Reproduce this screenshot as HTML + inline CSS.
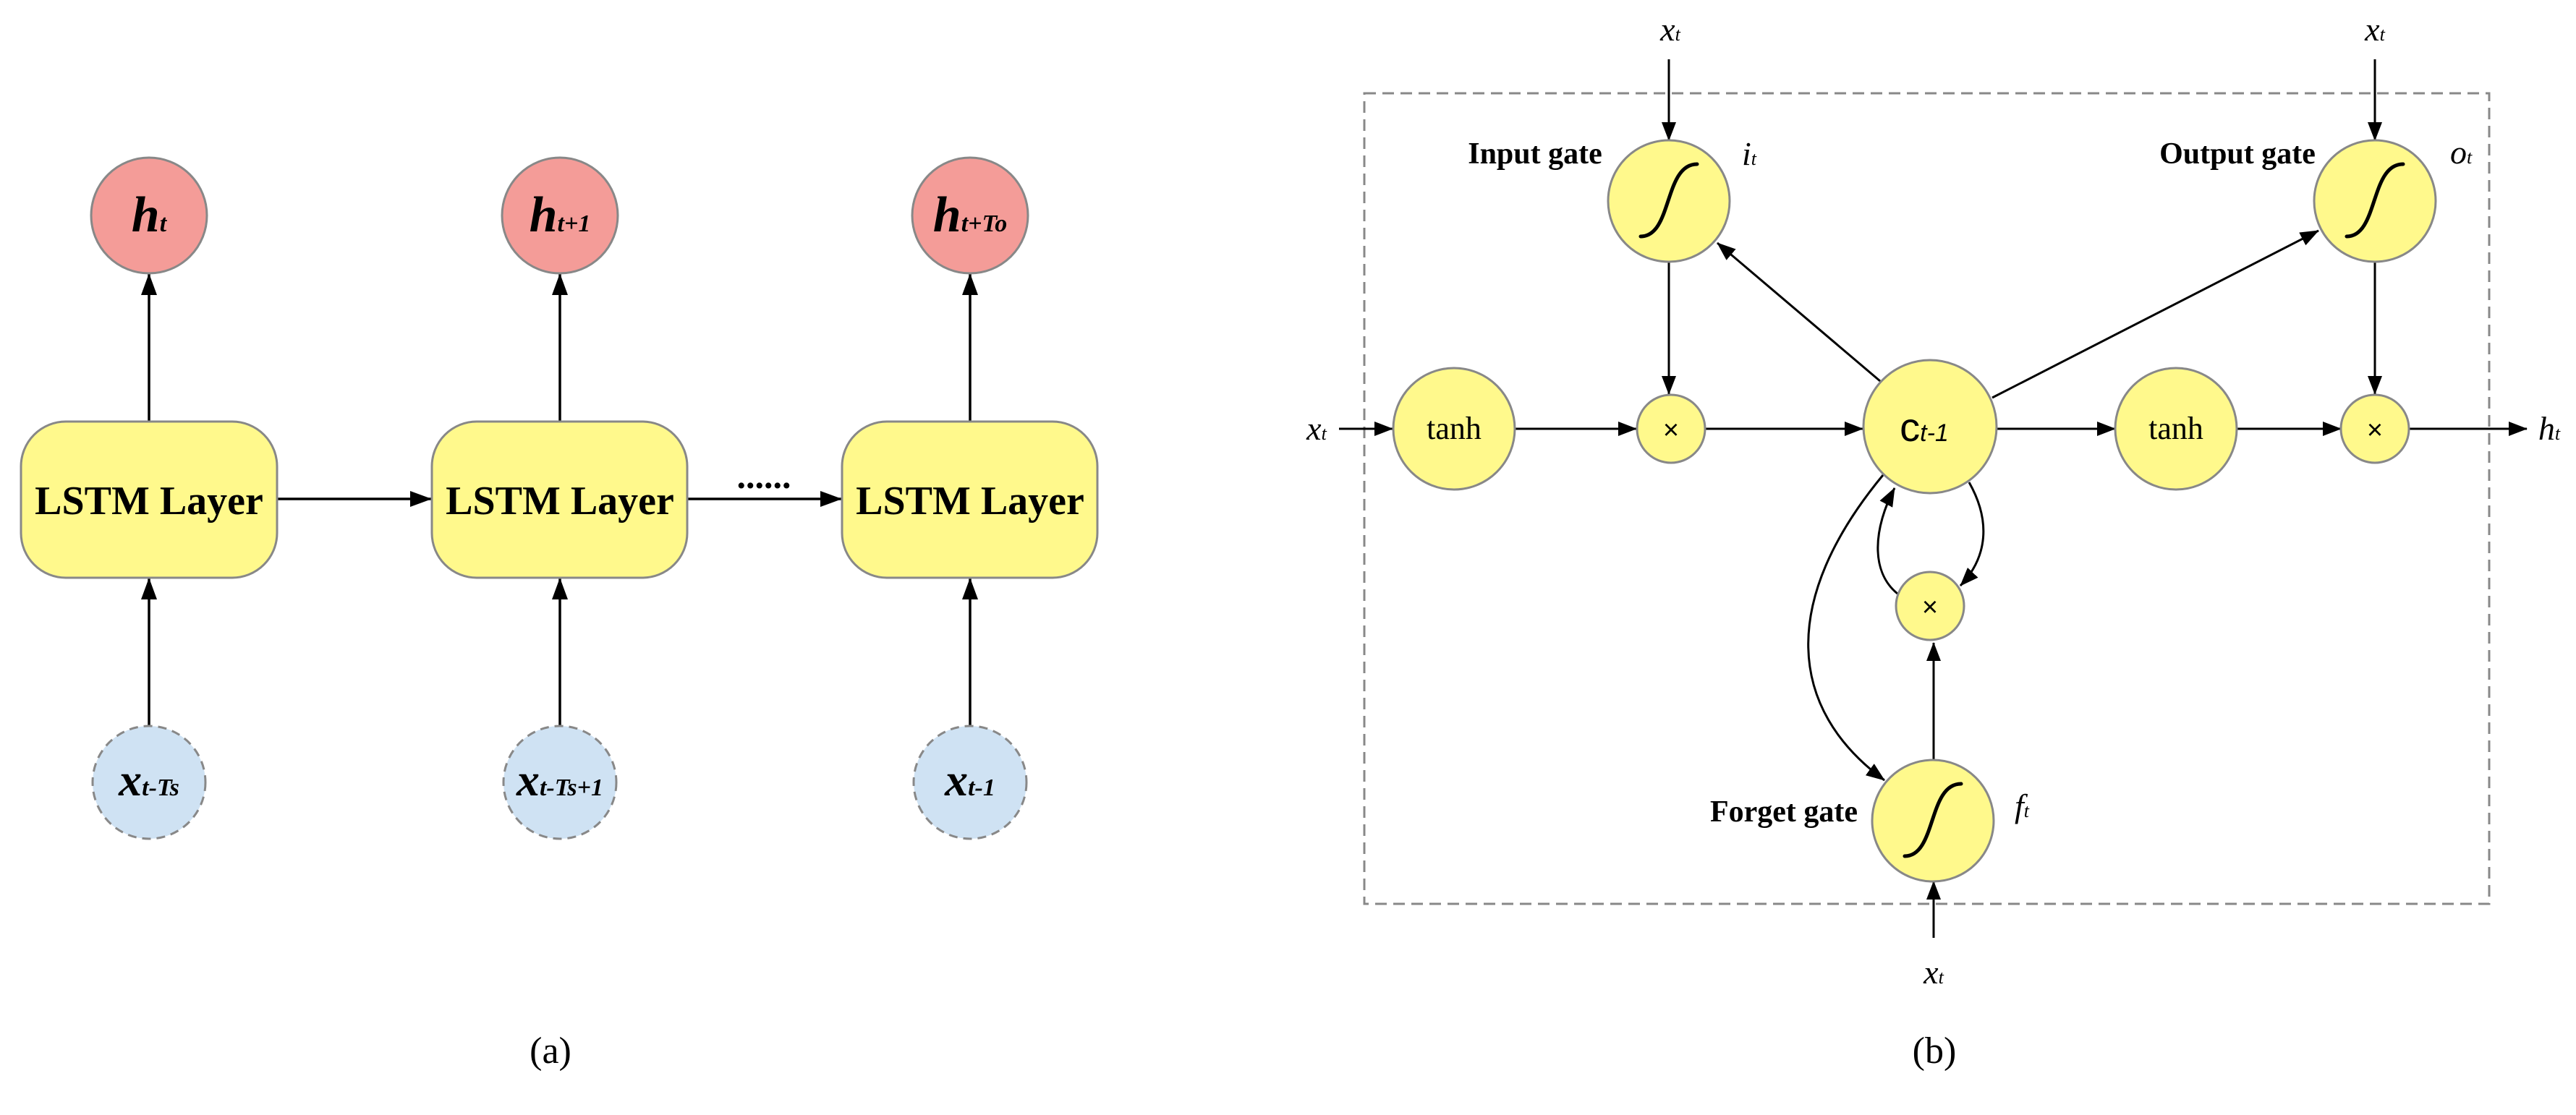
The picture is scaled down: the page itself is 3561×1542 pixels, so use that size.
<!DOCTYPE html>
<html><head><meta charset="utf-8"><style>
html,body{margin:0;padding:0;background:#fff;}
svg{display:block;}
</style></head><body>
<svg width="3561" height="1542" viewBox="0 0 3561 1542" xmlns="http://www.w3.org/2000/svg">
<defs>
<marker id="a" viewBox="0 0 30 22" refX="29" refY="11" markerWidth="30" markerHeight="22" markerUnits="userSpaceOnUse" orient="auto">
<path d="M0,0 L30,11 L0,22 z" fill="#000"/>
</marker>
<marker id="b" viewBox="0 0 26 20" refX="25" refY="10" markerWidth="26" markerHeight="20" markerUnits="userSpaceOnUse" orient="auto">
<path d="M0,0 L26,10 L0,20 z" fill="#000"/>
</marker>
</defs>
<g fill="none" stroke="#000" stroke-width="3.5">
<!-- panel a arrows -->
<line x1="206" y1="583" x2="206" y2="379" marker-end="url(#a)"/>
<line x1="774" y1="583" x2="774" y2="379" marker-end="url(#a)"/>
<line x1="1341" y1="583" x2="1341" y2="379" marker-end="url(#a)"/>
<line x1="206" y1="1004" x2="206" y2="800" marker-end="url(#a)"/>
<line x1="774" y1="1004" x2="774" y2="800" marker-end="url(#a)"/>
<line x1="1341" y1="1004" x2="1341" y2="800" marker-end="url(#a)"/>
<line x1="383" y1="690" x2="596" y2="690" marker-end="url(#a)"/>
<line x1="950" y1="690" x2="1163" y2="690" marker-end="url(#a)"/>
</g>
<g stroke="#888" stroke-width="3">
<circle cx="206" cy="298" r="80" fill="#F49C98"/>
<circle cx="774" cy="298" r="80" fill="#F49C98"/>
<circle cx="1341" cy="298" r="80" fill="#F49C98"/>
<rect x="29" y="583" width="354" height="216" rx="62" fill="#FFF98C"/>
<rect x="597" y="583" width="353" height="216" rx="62" fill="#FFF98C"/>
<rect x="1164" y="583" width="353" height="216" rx="62" fill="#FFF98C"/>
<g fill="#CFE2F3" stroke-dasharray="12,8">
<circle cx="206" cy="1082" r="78"/>
<circle cx="774" cy="1082" r="78"/>
<circle cx="1341" cy="1082" r="78"/>
</g>
</g>
<g font-family="'Liberation Serif',serif" fill="#000">
<text x="206" y="711" font-size="56" font-weight="bold" text-anchor="middle">LSTM Layer</text>
<text x="774" y="711" font-size="56" font-weight="bold" text-anchor="middle">LSTM Layer</text>
<text x="1341" y="711" font-size="56" font-weight="bold" text-anchor="middle">LSTM Layer</text>
<text x="1056" y="675" font-size="50" font-weight="bold" text-anchor="middle">......</text>
<g font-weight="bold" font-style="italic">
<text x="206" y="320" font-size="70" text-anchor="middle">h<tspan font-size="34">t</tspan></text>
<text x="774" y="320" font-size="70" text-anchor="middle">h<tspan font-size="34">t+1</tspan></text>
<text x="1341" y="320" font-size="70" text-anchor="middle">h<tspan font-size="34">t+To</tspan></text>
<text x="206" y="1100" font-size="64" text-anchor="middle">x<tspan font-size="34">t-Ts</tspan></text>
<text x="774" y="1100" font-size="64" text-anchor="middle">x<tspan font-size="34">t-Ts+1</tspan></text>
<text x="1341" y="1100" font-size="64" text-anchor="middle">x<tspan font-size="34">t-1</tspan></text>
</g>
<text x="761" y="1470" font-size="52" text-anchor="middle">(a)</text>
<text x="2674" y="1470" font-size="52" text-anchor="middle">(b)</text>
</g>

<!-- panel b -->
<rect x="1886" y="129" width="1555" height="1121" fill="none" stroke="#888" stroke-width="3" stroke-dasharray="16,9"/>
<g fill="none" stroke="#000" stroke-width="3">
<line x1="2307" y1="82" x2="2307" y2="194" marker-end="url(#b)"/>
<line x1="3283" y1="82" x2="3283" y2="194" marker-end="url(#b)"/>
<line x1="2307" y1="362" x2="2307" y2="545" marker-end="url(#b)"/>
<line x1="3283" y1="362" x2="3283" y2="545" marker-end="url(#b)"/>
<line x1="1851" y1="593" x2="1925" y2="593" marker-end="url(#b)"/>
<line x1="2093" y1="593" x2="2262" y2="593" marker-end="url(#b)"/>
<line x1="2357" y1="593" x2="2575" y2="593" marker-end="url(#b)"/>
<line x1="2761" y1="593" x2="2924" y2="593" marker-end="url(#b)"/>
<line x1="3091" y1="593" x2="3236" y2="593" marker-end="url(#b)"/>
<line x1="3330" y1="593" x2="3493" y2="593" marker-end="url(#b)"/>
<line x1="2599" y1="527" x2="2374" y2="336" marker-end="url(#b)"/>
<line x1="2754" y1="550" x2="3205" y2="319" marker-end="url(#b)"/>
<line x1="2673" y1="1297" x2="2673" y2="1219" marker-end="url(#b)"/>
<line x1="2673" y1="1052" x2="2673" y2="889" marker-end="url(#b)"/>
<path d="M2623,821 C2585,790 2590,730 2619,675" marker-end="url(#b)"/>
<path d="M2722,667 C2752,720 2748,770 2710,810" marker-end="url(#b)"/>
<path d="M2603,657 C2460,830 2470,980 2605,1079" marker-end="url(#b)"/>
</g>
<g stroke="#888" stroke-width="3" fill="#FFF98C">
<circle cx="2307" cy="278" r="84"/>
<circle cx="3283" cy="278" r="84"/>
<circle cx="2010" cy="593" r="84"/>
<circle cx="3008" cy="593" r="84"/>
<circle cx="2310" cy="593" r="47"/>
<circle cx="3283" cy="593" r="47"/>
<circle cx="2668" cy="590" r="92"/>
<circle cx="2668" cy="838" r="47"/>
<circle cx="2672" cy="1135" r="84"/>
</g>
<g fill="none" stroke="#000" stroke-width="5" stroke-linecap="round">
<path d="M2268,327 C2312,327 2300,227 2346,227"/>
<path d="M3244,327 C3288,327 3276,227 3322,227"/>
<path d="M2633,1184 C2677,1184 2665,1084 2711,1084"/>
</g>
<g font-family="'Liberation Sans',sans-serif" fill="#000" text-anchor="middle">
<text x="2310" y="607" font-size="38">×</text>
<text x="3283" y="607" font-size="38">×</text>
<text x="2668" y="852" font-size="38">×</text>
<text x="2660" y="610" font-size="56">c<tspan font-size="34" font-style="italic">t-1</tspan></text>
</g>
<g font-family="'Liberation Serif',serif" fill="#000">
<text x="2010" y="607" font-size="44" text-anchor="middle">tanh</text>
<text x="3008" y="607" font-size="44" text-anchor="middle">tanh</text>
<text x="2122" y="226" font-size="42" font-weight="bold" text-anchor="middle">Input gate</text>
<text x="3093" y="226" font-size="42" font-weight="bold" text-anchor="middle">Output gate</text>
<text x="2466" y="1136" font-size="42" font-weight="bold" text-anchor="middle">Forget gate</text>
<g font-style="italic">
<text x="2408" y="228" font-size="46">i<tspan font-size="26">t</tspan></text>
<text x="3387" y="226" font-size="46">o<tspan font-size="26">t</tspan></text>
<text x="2785" y="1130" font-size="46">f<tspan font-size="26">t</tspan></text>
<text x="2309" y="56" font-size="46" text-anchor="middle">x<tspan font-size="26">t</tspan></text>
<text x="3283" y="56" font-size="46" text-anchor="middle">x<tspan font-size="26">t</tspan></text>
<text x="2673" y="1360" font-size="46" text-anchor="middle">x<tspan font-size="26">t</tspan></text>
<text x="1820" y="608" font-size="46" text-anchor="middle">x<tspan font-size="26">t</tspan></text>
<text x="3524" y="608" font-size="46" text-anchor="middle">h<tspan font-size="26">t</tspan></text>
</g>
</g>
</svg>
</body></html>
